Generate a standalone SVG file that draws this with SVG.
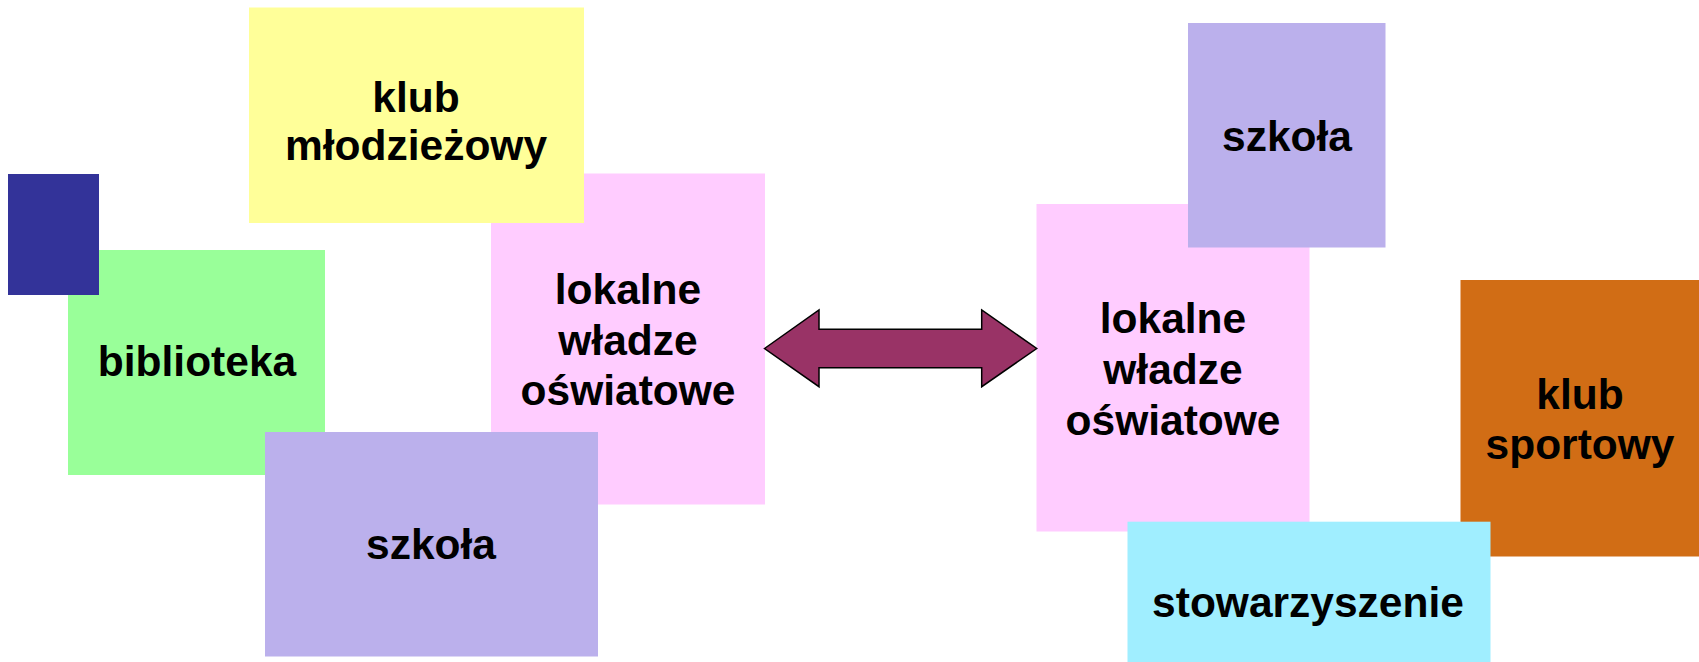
<svg xmlns="http://www.w3.org/2000/svg" width="1699" height="662" viewBox="0 0 1699 662">
<style>
text{font-family:"Liberation Sans",Arial,sans-serif;font-weight:bold;font-size:42.5px;fill:#000;text-anchor:middle}
</style>
<rect width="1699" height="662" fill="#fff"/>
<g id="biblioteka"><rect x="68" y="250" width="257" height="225" fill="#99FF99"/><text x="197" y="376">biblioteka</text></g>
<g id="blue"><rect x="8" y="174" width="91" height="121" fill="#333399"/></g>
<g id="lokalne-left"><rect x="491" y="173.5" width="274" height="331" fill="#FFCCFF"/><text x="628" y="304">lokalne</text><text x="628" y="354.5">władze</text><text x="628" y="405">oświatowe</text></g>
<g id="klub-mlodziezowy"><rect x="249" y="7.5" width="335" height="215.5" fill="#FFFF99"/><text x="416" y="111.5">klub</text><text x="416" y="160">młodzieżowy</text></g>
<g id="szkola-left"><rect x="265" y="432" width="333" height="224.5" fill="#BBB0EC"/><text x="431" y="559">szkoła</text></g>
<g id="lokalne-right"><rect x="1036.5" y="204" width="273" height="327.5" fill="#FFCCFF"/><text x="1173" y="333">lokalne</text><text x="1173" y="383.5">władze</text><text x="1173" y="434.5">oświatowe</text></g>
<g id="szkola-right"><rect x="1188" y="23" width="197.5" height="224.5" fill="#BBB0EC"/><text x="1287" y="151">szkoła</text></g>
<g id="klub-sportowy"><rect x="1460.5" y="280" width="238.5" height="276.5" fill="#D16D15"/><text x="1580" y="408.5">klub</text><text x="1580" y="458.5">sportowy</text></g>
<g id="stowarzyszenie"><rect x="1127.5" y="521.7" width="363" height="140.3" fill="#A0EEFF"/><text x="1308" y="616.5">stowarzyszenie</text></g>
<g id="connectors"><polygon points="764.5,348.5 819,310 819,329.3 981.7,329.3 981.7,310 1036.7,348.5 981.7,386.7 981.7,367.7 819,367.7 819,386.7" fill="#993366" stroke="#000" stroke-width="1.5" stroke-linejoin="miter"/></g>
</svg>
